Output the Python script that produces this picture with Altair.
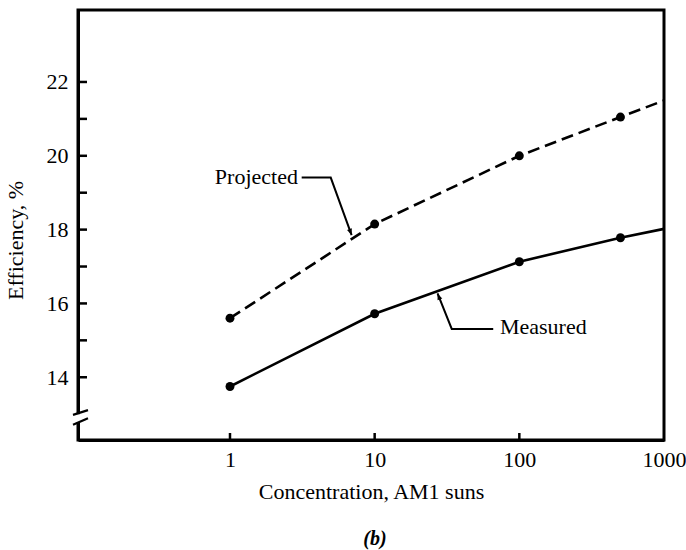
import altair as alt
import pandas as pd

# ---- data ----
conc_pts = [1, 10, 100, 500]
projected_pts = [15.6, 18.15, 20.0, 21.05]
measured_pts = [13.75, 15.72, 17.13, 17.78]

conc_line = [1, 10, 100, 500, 1000]
projected_line = [15.6, 18.15, 20.0, 21.05, 21.5]
measured_line = [13.75, 15.72, 17.13, 17.78, 18.02]

x_tick_vals = [1, 10, 100]
x_label_vals = [1, 10, 100, 1000]
y_tick_vals = [14, 15, 16, 17, 18, 19, 20, 21, 22]
y_label_vals = [14, 16, 18, 20, 22]

# annotation leaders (data coordinates)
proj_leader_x = [3.13, 4.97, 6.93]
proj_leader_y = [19.41, 19.41, 17.85]
meas_leader_x = [66, 34.1, 27.2]
meas_leader_y = [15.31, 15.31, 16.27]
labels_text = ["Projected", "Measured"]
labels_x = [2.95, 73.4]
labels_y = [19.24, 15.18]

break_y1 = [12.98, 12.71]
break_y2 = [13.11, 12.89]

FONT = "Liberation Serif"
FS = 22
W, H = 586, 430

xscale = alt.Scale(type="log", domain=[0.089, 1000])
yscale = alt.Scale(domain=[12.3, 23.95])

x_axis = alt.Axis(values=x_label_vals, format="d", ticks=False, tickSize=0,
                  labelPadding=26, labelBaseline="alphabetic", labelFont=FONT,
                  labelFontSize=FS, labelColor="black", title="Concentration, AM1 suns",
                  titleFont=FONT, titleFontSize=FS, titleFontWeight="normal",
                  titleColor="black", titleY=58, titleBaseline="alphabetic",
                  domainColor="black", domainWidth=3, grid=False, labelFlush=False)
y_axis = alt.Axis(values=y_label_vals, ticks=False, tickSize=0, labelPadding=10,
                  labelFont=FONT, labelFontSize=FS, labelColor="black",
                  title="Efficiency, %", titleFont=FONT, titleFontSize=FS,
                  titleFontWeight="normal", titleColor="black", titleX=-56,
                  titleY=230, titleBaseline="alphabetic", titleAngle=270,
                  domainColor="black", domainWidth=3, grid=False)


def X(f):
    return alt.X(f, scale=xscale, axis=x_axis)


def Y(f):
    return alt.Y(f, scale=yscale, axis=y_axis)


df_line = pd.DataFrame({"c": conc_line, "p": projected_line, "m": measured_line})
df_pts = pd.DataFrame({"c": conc_pts, "p": projected_pts, "m": measured_pts})

proj_line = alt.Chart(df_line).mark_line(color="black", strokeWidth=2.6, strokeDash=[12, 6]).encode(
    x=X("c:Q"), y=Y("p:Q"))
meas_line = alt.Chart(df_line).mark_line(color="black", strokeWidth=2.6).encode(
    x=X("c:Q"), y=Y("m:Q"))
proj_dots = alt.Chart(df_pts).mark_circle(color="black", size=80, opacity=1).encode(
    x=X("c:Q"), y=Y("p:Q"))
meas_dots = alt.Chart(df_pts).mark_circle(color="black", size=80, opacity=1).encode(
    x=X("c:Q"), y=Y("m:Q"))

# inward ticks
y_ticks = alt.Chart(pd.DataFrame({"v": y_tick_vals})).mark_rule(color="black", strokeWidth=2.5).encode(
    y=Y("v:Q"), x=alt.value(0), x2=alt.value(9))
x_ticks = alt.Chart(pd.DataFrame({"c": x_tick_vals})).mark_rule(color="black", strokeWidth=2.5).encode(
    x=X("c:Q"), y=alt.value(H), y2=alt.value(H - 7))

# leaders
df_lead = pd.DataFrame({
    "c": proj_leader_x + meas_leader_x,
    "v": proj_leader_y + meas_leader_y,
    "g": ["p"] * 3 + ["m"] * 3,
    "i": [0, 1, 2, 0, 1, 2],
})
leaders = alt.Chart(df_lead).mark_line(color="black", strokeWidth=2).encode(
    x=X("c:Q"), y=Y("v:Q"), detail="g:N", order=alt.Order("i:Q"))

arrow_shape = "M0,0L-0.4,1L0.4,1Z"
df_arrows = pd.DataFrame({"c": [proj_leader_x[2], meas_leader_x[2]],
                          "v": [proj_leader_y[2], meas_leader_y[2]],
                          "a": [160, 338]})
arrows = alt.Chart(df_arrows).mark_point(shape=arrow_shape, filled=True, size=160,
                                          color="black", opacity=1).encode(
    x=X("c:Q"), y=Y("v:Q"), angle=alt.Angle("a:Q", scale=None))

df_lab = pd.DataFrame({"t": labels_text, "c": labels_x, "v": labels_y})
lab_proj = alt.Chart(df_lab.iloc[[0]]).mark_text(font=FONT, fontSize=FS, align="right",
                                                 baseline="alphabetic", color="black").encode(
    x=X("c:Q"), y=Y("v:Q"), text="t:N")
lab_meas = alt.Chart(df_lab.iloc[[1]]).mark_text(font=FONT, fontSize=FS, align="left",
                                                 baseline="alphabetic", color="black").encode(
    x=X("c:Q"), y=Y("v:Q"), text="t:N")

# axis break
gap = alt.Chart(pd.DataFrame({"v": [12.78], "v2": [13.0]})).mark_rule(color="white", strokeWidth=6).encode(
    y=Y("v:Q"), y2="v2:Q", x=alt.value(0))
slashes = alt.Chart(pd.DataFrame({"v": break_y1, "v2": break_y2})).mark_rule(
    color="black", strokeWidth=2.2).encode(
    y=Y("v:Q"), y2="v2:Q", x=alt.value(-5), x2=alt.value(10))

caption = alt.Chart(pd.DataFrame({"t": ["(b)"]})).mark_text(
    font=FONT, fontSize=20, fontStyle="italic", fontWeight="bold", align="center",
    baseline="alphabetic", color="black").encode(
    text="t:N", x=alt.value(297), y=alt.value(535))

chart = alt.layer(
    proj_line, meas_line, proj_dots, meas_dots, y_ticks, x_ticks, leaders, arrows,
    lab_proj, lab_meas, gap, slashes, caption
).properties(
    width=W, height=H,
    autosize=alt.AutoSizeParams(type="none"),
    padding={"left": 78, "top": 10, "right": 22, "bottom": 110},
).configure(background="white").configure_view(stroke="black", strokeWidth=3)

chart.save("out.html", embed_options={"renderer": "svg", "actions": False})
